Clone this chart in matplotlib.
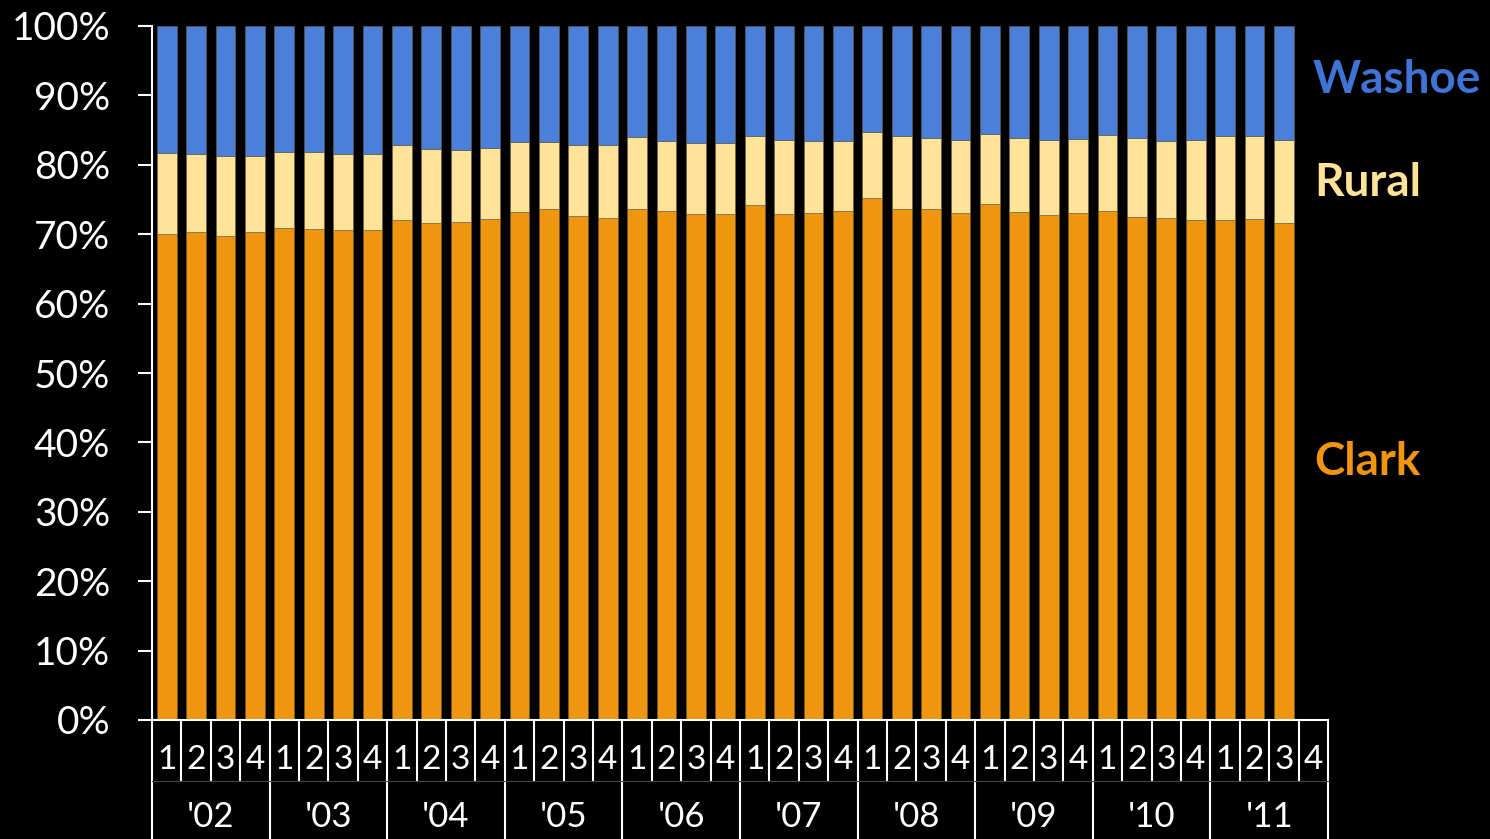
import matplotlib
matplotlib.use("Agg")
import matplotlib.pyplot as plt
import matplotlib.transforms as mtransforms
import numpy as np

plt.rcParams['font.family'] = ['Lato', 'DejaVu Sans']

years = ["'02", "'03", "'04", "'05", "'06", "'07", "'08", "'09", "'10", "'11"]
quarters = ["1", "2", "3", "4"]

# Shares (%) per quarter, 2002 Q1 .. 2011 Q3
clark = [70.0, 70.3, 69.8, 70.3, 70.9, 70.8, 70.6, 70.6,
         72.0, 71.6, 71.7, 72.2, 73.2, 73.6, 72.6, 72.4,
         73.6, 73.3, 72.9, 72.9, 74.2, 72.9, 73.1, 73.4,
         75.2, 73.7, 73.6, 73.1, 74.3, 73.2, 72.8, 73.1,
         73.3, 72.5, 72.3, 72.0, 72.0, 72.2, 71.6]
clark_plus_rural = [81.7, 81.6, 81.3, 81.3, 81.9, 81.9, 81.5, 81.6,
                    82.8, 82.3, 82.2, 82.4, 83.3, 83.3, 82.8, 82.8,
                    84.0, 83.5, 83.1, 83.1, 84.2, 83.6, 83.5, 83.5,
                    84.7, 84.1, 83.9, 83.6, 84.5, 83.9, 83.6, 83.7,
                    84.3, 83.8, 83.5, 83.6, 84.2, 84.1, 83.6]
rural = [t - c for t, c in zip(clark_plus_rural, clark)]
washoe = [100 - t for t in clark_plus_rural]

C_CLARK = '#F0950E'
C_RURAL = '#FFE398'
C_WASHOE = '#4A7FDA'

fig = plt.figure(figsize=(14.9, 8.39), dpi=100, facecolor='black')
ax = fig.add_axes([152/1490, 1-720/839, (1328-152)/1490, (720-26)/839])
ax.set_facecolor('black')

n = len(clark)
x = np.arange(n)
w = 0.68
ec = '#6e6040'
ax.bar(x, clark, w, color=C_CLARK, edgecolor=ec, linewidth=0.4)
ax.bar(x, rural, w, bottom=clark, color=C_RURAL, edgecolor=ec, linewidth=0.4)
ax.bar(x, washoe, w, bottom=clark_plus_rural, color=C_WASHOE, edgecolor=ec, linewidth=0.4)

nslots = len(years) * len(quarters)
ax.set_xlim(-0.5, nslots - 0.5)
ax.set_ylim(0, 100)

ax.set_yticks(np.arange(0, 101, 10))
ax.set_yticklabels([f"{v}%" for v in range(0, 101, 10)])
ax.tick_params(axis='y', colors='white', labelcolor='white', labelsize=28,
               length=10, width=1.5, pad=20)
ax.set_xticks([])
for s in ['top', 'right']:
    ax.spines[s].set_visible(False)
for s in ['left', 'bottom']:
    ax.spines[s].set_color('white')
    ax.spines[s].set_linewidth(1.5)

trans = mtransforms.blended_transform_factory(ax.transData, ax.transAxes)
y_q = -61/694
y_bot = -119/694
for k in range(nslots + 1):
    xb = k - 0.5
    if k % 4 == 0:
        ax.plot([xb, xb], [0, y_bot], color='white', lw=1.5, transform=trans, clip_on=False)
    else:
        ax.plot([xb, xb], [0, y_q], color='white', lw=1.5, transform=trans, clip_on=False)
ax.plot([-0.5, nslots - 0.5], [y_q, y_q], color='#444444', lw=0.8, transform=trans, clip_on=False)

for yi, yr in enumerate(years):
    for qi, q in enumerate(quarters):
        ax.text(yi*4 + qi, -40/694, q, transform=trans, ha='center', va='center',
                color='white', fontsize=24)
    ax.text(yi*4 + 1.5, -97/694, yr, transform=trans, ha='center', va='center',
            color='white', fontsize=25)

fig.text(1313/1490, 1-80/839, 'Washoe', color='#3F74D6', fontsize=33, fontweight='bold',
         ha='left', va='center')
fig.text(1314/1490, 1-183/839, 'Rural', color=C_RURAL, fontsize=33, fontweight='bold',
         ha='left', va='center')
fig.text(1314/1490, 1-462/839, 'Clark', color=C_CLARK, fontsize=33, fontweight='bold',
         ha='left', va='center')

fig.savefig('out.png', dpi=100, facecolor='black')
